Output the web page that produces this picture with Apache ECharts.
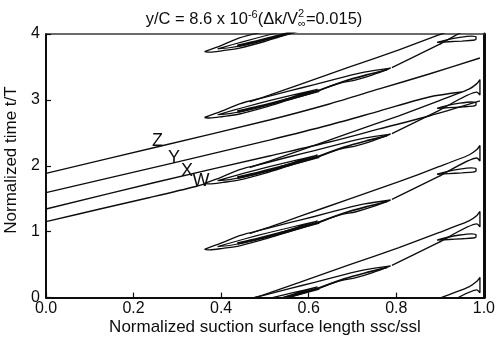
<!DOCTYPE html>
<html>
<head>
<meta charset="utf-8">
<script src="https://cdn.jsdelivr.net/npm/echarts@6/dist/echarts.min.js"></script>
<style>
  html, body { margin: 0; padding: 0; background: #fff; }
  #chart { width: 498px; height: 342px; }
</style>
</head>
<body>
<div id="chart"></div>
<script>
// ---- axis ticks ----
const xTicks = [0, 0.2, 0.4, 0.6, 0.8, 1.0];
const tTicks = [0, 1, 2, 3, 4];

// ---- long contour lines entering from the leading edge (x = ssc/ssl, t = t/T) ----
const lineZ = [[0, 1.886], [0.253, 2.285], [0.510, 2.695], [0.647, 2.938], [0.761, 3.166], [0.875, 3.393], [0.991, 3.636]];
const lineY = [[0, 1.592], [0.289, 2.042], [0.510, 2.391], [0.647, 2.619], [0.761, 2.831], [0.875, 3.044], [0.950, 3.120]];
const lineX = [[0, 1.344], [0.253, 1.754], [0.510, 2.149], [0.647, 2.361], [0.761, 2.559], [0.875, 2.756], [0.991, 2.984]];
const lineW = [[0, 1.152], [0.123, 1.344], [0.237, 1.519], [0.342, 1.686], [0.364, 1.731]];

// ---- wake-induced strips, one per wake passing ----
// outer closed contour of each strip
const outer0 = [[0.362,-0.267],[0.401,-0.171],[0.442,-0.059],[0.499,0.039],[0.556,0.137],[0.613,0.231],[0.670,0.330],[0.727,0.421],[0.787,0.481],[0.746,0.379],[0.708,0.303],[0.670,0.253],[0.617,0.127],[0.556,0.003],[0.499,-0.114],[0.442,-0.214],[0.404,-0.252],[0.374,-0.275],[0.362,-0.267]];
const outer1 = [[0.362,0.733],[0.401,0.829],[0.442,0.941],[0.499,1.039],[0.556,1.137],[0.613,1.231],[0.670,1.330],[0.727,1.421],[0.787,1.481],[0.746,1.379],[0.708,1.303],[0.670,1.253],[0.617,1.127],[0.556,1.003],[0.499,0.886],[0.442,0.786],[0.404,0.748],[0.374,0.725],[0.362,0.733]];
const outer2 = [[0.362,1.733],[0.401,1.829],[0.442,1.941],[0.499,2.039],[0.556,2.137],[0.613,2.231],[0.670,2.330],[0.727,2.421],[0.787,2.481],[0.746,2.379],[0.708,2.303],[0.670,2.253],[0.617,2.127],[0.556,2.003],[0.499,1.886],[0.442,1.786],[0.404,1.748],[0.374,1.725],[0.362,1.733]];
const outer3 = [[0.362,2.733],[0.401,2.829],[0.442,2.941],[0.499,3.039],[0.556,3.137],[0.613,3.231],[0.670,3.330],[0.727,3.421],[0.787,3.481],[0.746,3.379],[0.708,3.303],[0.670,3.253],[0.617,3.127],[0.556,3.003],[0.499,2.886],[0.442,2.786],[0.404,2.748],[0.374,2.725],[0.362,2.733]];
const outer4 = [[0.362,3.733],[0.401,3.829],[0.442,3.941],[0.499,4.039],[0.556,4.137],[0.613,4.231],[0.617,4.127],[0.556,4.003],[0.499,3.886],[0.442,3.786],[0.404,3.748],[0.374,3.725],[0.362,3.733]];

// inner closed contour of each strip
const inner0 = [[0.392,-0.225],[0.453,-0.111],[0.510,-0.012],[0.567,0.079],[0.620,0.162],[0.579,0.079],[0.522,-0.042],[0.465,-0.149],[0.419,-0.209],[0.392,-0.225]];
const inner1 = [[0.392,0.775],[0.453,0.889],[0.510,0.988],[0.567,1.079],[0.620,1.162],[0.579,1.079],[0.522,0.958],[0.465,0.851],[0.419,0.791],[0.392,0.775]];
const inner2 = [[0.392,1.775],[0.453,1.889],[0.510,1.988],[0.567,2.079],[0.620,2.162],[0.579,2.079],[0.522,1.958],[0.465,1.851],[0.419,1.791],[0.392,1.775]];
const inner3 = [[0.392,2.775],[0.453,2.889],[0.510,2.988],[0.567,3.079],[0.620,3.162],[0.579,3.079],[0.522,2.958],[0.465,2.851],[0.419,2.791],[0.392,2.775]];
const inner4 = [[0.392,3.775],[0.453,3.889],[0.510,3.988],[0.567,4.079],[0.620,4.162],[0.579,4.079],[0.522,3.958],[0.465,3.851],[0.419,3.791],[0.392,3.775]];

// packed innermost levels (drawn heavy)
const core0 = [[0.437,-0.179],[0.487,-0.103],[0.544,-0.005],[0.590,0.079],[0.624,0.140]];
const core1 = [[0.437,0.821],[0.487,0.897],[0.544,0.995],[0.590,1.079],[0.624,1.140]];
const core2 = [[0.437,1.821],[0.487,1.897],[0.544,1.995],[0.590,2.079],[0.624,2.140]];
const core3 = [[0.437,2.821],[0.487,2.897],[0.544,2.995],[0.590,3.079],[0.624,3.140]];
const core4 = [[0.437,3.821],[0.487,3.897],[0.544,3.995],[0.590,4.079],[0.624,4.140]];

// thin streak running on toward the strip tip
const streak0 = [[0.624,0.147],[0.681,0.284],[0.738,0.390],[0.779,0.458]];
const streak1 = [[0.624,1.147],[0.681,1.284],[0.738,1.390],[0.779,1.458]];
const streak2 = [[0.624,2.147],[0.681,2.284],[0.738,2.390],[0.779,2.458]];
const streak3 = [[0.624,3.147],[0.681,3.284],[0.738,3.390],[0.779,3.458]];

// open level running out to the trailing edge and back (wedge)
const wedgeM1 = [[0.465,-1.028],[0.510,-0.929],[0.579,-0.769],[0.692,-0.504],[0.806,-0.241],[0.897,-0.014],[0.966,0.164],[0.984,0.247],[0.991,0.308],[0.991,0.073],[0.984,0.118],[0.897,-0.162],[0.790,-0.511]];
const wedge0 = [[0.465,-0.028],[0.510,0.071],[0.579,0.231],[0.692,0.496],[0.806,0.759],[0.897,0.986],[0.966,1.164],[0.984,1.247],[0.991,1.308],[0.991,1.073],[0.984,1.118],[0.897,0.838],[0.790,0.489]];
const wedge1 = [[0.465,0.972],[0.510,1.071],[0.579,1.231],[0.692,1.496],[0.806,1.759],[0.897,1.986],[0.966,2.164],[0.984,2.247],[0.991,2.308],[0.991,2.073],[0.984,2.118],[0.897,1.838],[0.790,1.489]];
const wedge2 = [[0.465,1.972],[0.510,2.071],[0.579,2.231],[0.692,2.496],[0.806,2.759],[0.897,2.986],[0.966,3.164],[0.984,3.247],[0.991,3.308],[0.991,3.073],[0.984,3.118],[0.897,2.838],[0.790,2.489]];
const wedge3 = [[0.465,2.972],[0.510,3.071],[0.579,3.231],[0.692,3.496],[0.806,3.759],[0.897,3.986],[0.966,4.164],[0.984,4.247],[0.991,4.308],[0.991,4.073],[0.984,4.118],[0.897,3.838],[0.790,3.489]];

// small closed islands near the trailing edge
const island0 = [[0.893,0.872],[0.915,0.912],[0.945,0.950],[0.972,0.968],[0.982,0.955],[0.982,0.925],[0.975,0.905],[0.950,0.893],[0.920,0.882],[0.893,0.872]];
const island1 = [[0.893,1.872],[0.915,1.912],[0.945,1.950],[0.972,1.968],[0.982,1.955],[0.982,1.925],[0.975,1.905],[0.950,1.893],[0.920,1.882],[0.893,1.872]];
const island2 = [[0.893,2.872],[0.915,2.912],[0.945,2.950],[0.972,2.968],[0.982,2.955],[0.982,2.925],[0.975,2.905],[0.950,2.893],[0.920,2.882],[0.893,2.872]];
const island3 = [[0.893,3.872],[0.915,3.912],[0.945,3.950],[0.972,3.968],[0.982,3.955],[0.982,3.925],[0.975,3.905],[0.950,3.893],[0.920,3.882],[0.893,3.872]];

// ---- drawing ----
const FONT = '"Liberation Sans", Arial, Helvetica, sans-serif';
const INK = '#0d0d0d';

function contour(data, width, smooth) {
  return {
    type: 'line', data: data, showSymbol: false, symbol: 'none',
    clip: true, silent: true, animation: false,
    smooth: smooth === undefined ? 0.3 : smooth,
    lineStyle: { color: INK, width: width || 1.35 },
    emphasis: { disabled: true }
  };
}

const series = [
  contour(lineZ), contour(lineY), contour(lineX), contour(lineW),
  contour(outer0), contour(outer1), contour(outer2), contour(outer3), contour(outer4),
  contour(inner0, 1.2), contour(inner1, 1.2), contour(inner2, 1.2), contour(inner3, 1.2), contour(inner4, 1.2),
  contour(core0, 2.8), contour(core1, 2.8), contour(core2, 2.8), contour(core3, 2.8), contour(core4, 2.8),
  contour(streak0, 1.7), contour(streak1, 1.7), contour(streak2, 1.7), contour(streak3, 1.7),
  contour(wedgeM1, 1.35, 0.2), contour(wedge0, 1.35, 0.2), contour(wedge1, 1.35, 0.2), contour(wedge2, 1.35, 0.2), contour(wedge3, 1.35, 0.2),
  contour(island0), contour(island1), contour(island2), contour(island3)
];

// title with super/subscripts, laid out piece by piece
const measureCtx = document.createElement('canvas').getContext('2d');
function widthOf(text, size) {
  measureCtx.font = size + 'px ' + FONT;
  return measureCtx.measureText(text).width;
}
const mainSize = 16.5, scriptSize = 11;
const titleParts = [
  { text: 'y/C = 8.6 x 10', size: mainSize, y: 19.5 },
  { text: '-6', size: scriptSize, y: 15 },
  { text: '(\u0394k/V', size: mainSize, y: 19.5 },
  { stack: [{ text: '2', y: 14 }, { text: '\u221e', y: 24 }], size: scriptSize },
  { text: '=0.015)', size: mainSize, y: 19.5 }
];
let totalW = 0;
titleParts.forEach(p => {
  p.w = p.stack ? Math.max(...p.stack.map(s => widthOf(s.text, p.size))) : widthOf(p.text, p.size);
  totalW += p.w;
});
const titleCenter = 254;
let cursor = titleCenter - totalW / 2;
const graphics = [];
titleParts.forEach(p => {
  const pieces = p.stack ? p.stack : [{ text: p.text, y: p.y }];
  pieces.forEach(s => {
    graphics.push({
      type: 'text', x: cursor, y: s.y, silent: true,
      style: { text: s.text, fontSize: p.size, fontFamily: FONT, fill: INK, align: 'left', verticalAlign: 'middle' }
    });
  });
  cursor += p.w;
});

// axis names
graphics.push({
  type: 'text', x: 265, y: 327, silent: true,
  style: { text: 'Normalized suction surface length ssc/ssl', fontSize: 17, fontFamily: FONT, fill: INK, align: 'center', verticalAlign: 'middle' }
});
graphics.push({
  type: 'text', x: 11, y: 160, rotation: Math.PI / 2, silent: true,
  style: { text: 'Normalized time t/T', fontSize: 17, fontFamily: FONT, fill: INK, align: 'center', verticalAlign: 'middle' }
});

// level labels along the leading-edge lines
const levelLabels = [
  { text: 'Z', x: 157.5, y: 141 },
  { text: 'Y', x: 174, y: 158 },
  { text: 'X', x: 187, y: 171 },
  { text: 'W', x: 201, y: 181 }
];
levelLabels.forEach(l => graphics.push({
  type: 'text', x: l.x, y: l.y, silent: true, z: 10,
  style: { text: l.text, fontSize: 18, fontFamily: FONT, fill: INK, align: 'center', verticalAlign: 'middle' }
}));

const chart = echarts.init(document.getElementById('chart'), null, { renderer: 'canvas' });
chart.setOption({
  animation: false,
  backgroundColor: '#fff',
  grid: { left: 46, right: 13, top: 34, bottom: 44.4, containLabel: false },
  xAxis: [
    {
      type: 'value', min: 0, max: 1, interval: 0.2, position: 'bottom',
      axisLine: { show: true, onZero: false, lineStyle: { color: INK, width: 2 } },
      axisTick: { show: true, inside: true, length: 5, customValues: xTicks, lineStyle: { color: INK, width: 1.2 } },
      axisLabel: { customValues: xTicks, formatter: v => v.toFixed(1), fontSize: 16, fontFamily: FONT, color: INK, margin: 3 },
      splitLine: { show: false }
    },
    {
      type: 'value', min: 0, max: 1, position: 'top',
      axisLine: { show: true, onZero: false, lineStyle: { color: '#3a3a3a', width: 1.5 } },
      axisTick: { show: false }, axisLabel: { show: false }, splitLine: { show: false }
    }
  ],
  yAxis: [
    {
      type: 'value', min: 0, max: 4, interval: 1, position: 'left',
      axisLine: { show: true, onZero: false, lineStyle: { color: INK, width: 2 } },
      axisTick: { show: true, inside: true, length: 5, customValues: tTicks, lineStyle: { color: INK, width: 1.2 } },
      axisLabel: { customValues: tTicks, formatter: v => String(v), fontSize: 16, fontFamily: FONT, color: INK, margin: 6 },
      splitLine: { show: false }
    },
    {
      type: 'value', min: 0, max: 4, position: 'right',
      axisLine: { show: true, onZero: false, lineStyle: { color: INK, width: 3 } },
      axisTick: { show: false }, axisLabel: { show: false }, splitLine: { show: false }
    }
  ],
  series: series,
  graphic: graphics
});
</script>
</body>
</html>
